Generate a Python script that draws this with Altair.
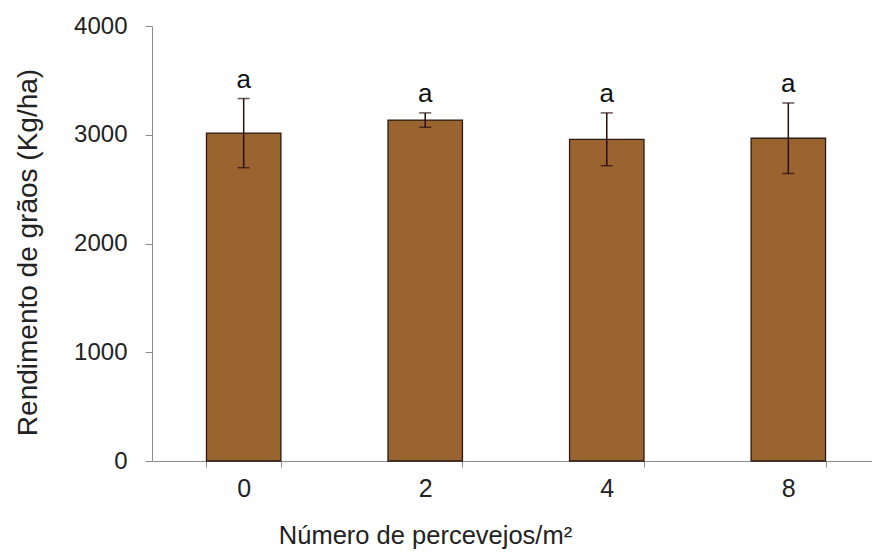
import altair as alt
import pandas as pd

# Grain yield by stink bug density
categories = ["0", "2", "4", "8"]
yield_mean = [3015, 3135, 2958, 2968]
yield_err = [318, 66, 243, 324]
letters = ["a", "a", "a", "a"]

df = pd.DataFrame({
    "n": categories,
    "mean": yield_mean,
    "err": yield_err,
    "letter": letters,
})
df["lo"] = df["mean"] - df["err"]
df["hi"] = df["mean"] + df["err"]

FONT = "Liberation Sans"

x = alt.X(
    "n:N",
    sort=categories,
    title="Número de percevejos/m²",
    scale=alt.Scale(range=[0, 728], paddingInner=0.59, paddingOuter=0.3),
    axis=alt.Axis(
        labelAngle=0,
        labelPadding=9,
        labelFontSize=25,
        titleFontSize=25.5,
        titlePadding=22,
        titleX=273,
        tickSize=6,
        tickBand="extent",
    ),
)

y_scale = alt.Scale(domain=[0, 4000], nice=False)
y_axis = alt.Axis(
    values=[0, 1000, 2000, 3000, 4000],
    format="d",
    labelPadding=18,
    labelFontSize=24,
    titleFontSize=28,
    title="Rendimento  de grãos (Kg/ha)",
    titlePadding=31,
    titleY=226,
    tickSize=7,
)

base = alt.Chart(df).encode(x=x)
err_color = "#2a0c0c"

bars = base.mark_bar(
    color="#9a6431", stroke="#2b1a10", strokeWidth=1.3
).encode(y=alt.Y("mean:Q", scale=y_scale, axis=y_axis))

stems = base.mark_rule(color=err_color, strokeWidth=1.5).encode(
    y=alt.Y("lo:Q", scale=y_scale, axis=y_axis),
    y2="hi:Q",
)

caps_hi = base.mark_tick(color=err_color, size=12, thickness=1.5).encode(
    y=alt.Y("hi:Q", scale=y_scale, axis=y_axis),
)
caps_lo = base.mark_tick(color=err_color, size=12, thickness=1.5).encode(
    y=alt.Y("lo:Q", scale=y_scale, axis=y_axis),
)

labels = base.mark_text(
    fontSize=26, font=FONT, color="#111111", baseline="alphabetic", dy=-11
).encode(
    y=alt.Y("hi:Q", scale=y_scale, axis=y_axis),
    text="letter:N",
)

chart = (
    alt.layer(bars, stems, caps_hi, caps_lo, labels)
    .properties(
        width=720,
        height=435,
        background="white",
        autosize=alt.AutoSizeParams(type="none"),
        padding={"left": 152, "top": 26, "right": 0, "bottom": 93},
    )
    .configure_view(stroke=None)
    .configure_axis(
        labelFont=FONT,
        labelColor="#222222",
        titleFont=FONT,
        titleFontWeight="normal",
        titleColor="#222222",
        domainColor="#8c8c8c",
        tickColor="#8c8c8c",
        grid=False,
    )
)

chart.save("out.html", embed_options={"renderer": "svg", "actions": False})
